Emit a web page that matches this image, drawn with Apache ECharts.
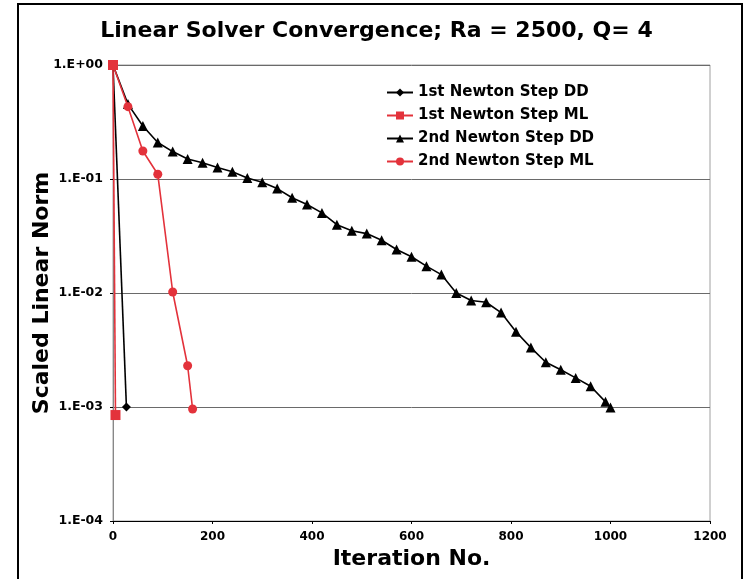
<!DOCTYPE html>
<html style="height: 100%">

<head>
    <meta charset="utf-8">
</head>

<body style="height: 100%; margin: 0; background: #fff">
    <div id="container" style="height: 100%"></div>
    <script type="text/javascript" src="https://cdn.jsdelivr.net/npm/echarts@6/dist/echarts.min.js"></script>
    <script type="text/javascript">

        // iterations and scaled norms
        var ddStep1X = [0, 27];
        var ddStep1Y = [1.0, 0.001];

        var mlStep1X = [0, 5];
        var mlStep1Y = [1.0, 0.00085];

        var ddStep2X = [0, 30, 60, 90, 120, 150, 180, 210, 240, 270, 300, 330, 360, 390, 420, 450, 480, 510,
            540, 570, 600, 630, 660, 690, 720, 750, 780, 810, 840, 870, 900, 930, 960, 990, 1000];
        var ddStep2Y = [1.0, 0.454, 0.292, 0.209, 0.174, 0.150, 0.139, 0.126, 0.116, 0.102, 0.0935, 0.0824,
            0.0684, 0.0598, 0.0504, 0.0397, 0.0352, 0.0332, 0.0290, 0.0241, 0.0208, 0.0172, 0.0145, 0.0100,
            0.0086, 0.0083, 0.00673, 0.00457, 0.00332, 0.00247, 0.00212, 0.00180, 0.00152, 0.00111, 0.00099];

        var mlStep2X = [0, 30, 60, 90, 120, 150, 160];
        var mlStep2Y = [1.0, 0.431, 0.176, 0.110, 0.0102, 0.0023, 0.00096];

        var seriesNames = ['1st Newton Step DD', '1st Newton Step ML', '2nd Newton Step DD', '2nd Newton Step ML'];
        var yTicks = [1, 0.1, 0.01, 0.001, 0.0001];

        function pairs(xs, ys) {
            var out = [];
            for (var i = 0; i < xs.length; i++) {
                out.push([xs[i], ys[i]]);
            }
            return out;
        }

        function expLabel(v) {
            var e = Math.round(Math.log(v) / Math.LN10);
            var s = e < 0 ? '-' : '+';
            var a = Math.abs(e);
            return '1.E' + s + (a < 10 ? '0' + a : a);
        }

        var red = '#e3323b';
        var font = 'DejaVu Sans';

        var dom = document.getElementById("container");
        var myChart = echarts.init(dom, null, { renderer: 'canvas' });

        var option = {
            backgroundColor: '#fff',
            animation: false,
            title: {
                text: 'Linear Solver Convergence; Ra = 2500, Q= 4',
                left: 'center',
                top: 15,
                textStyle: { fontFamily: font, fontSize: 22, fontWeight: 'bold', color: '#000' }
            },
            graphic: [{
                type: 'rect',
                shape: { x: 18, y: 4, width: 724, height: 620 },
                style: { fill: 'none', stroke: '#000', lineWidth: 2 },
                silent: true
            }],
            legend: {
                orient: 'vertical',
                left: 381,
                top: 80,
                itemWidth: 26,
                itemHeight: 10,
                itemGap: 8,
                data: seriesNames,
                textStyle: { fontFamily: font, fontSize: 15, fontWeight: 'bold', color: '#000' }
            },
            grid: {
                left: 113,
                right: 43,
                top: 65,
                bottom: 58,
                show: true,
                borderColor: '#a0a0a0',
                borderWidth: 1
            },
            xAxis: {
                type: 'value',
                min: 0,
                max: 1200,
                interval: 200,
                name: 'Iteration No.',
                nameLocation: 'middle',
                nameGap: 27,
                nameTextStyle: { fontFamily: font, fontSize: 22, fontWeight: 'bold', color: '#000' },
                axisLine: { lineStyle: { color: '#000', width: 1 } },
                axisTick: { length: 3, lineStyle: { color: '#000' } },
                axisLabel: {
                    margin: 10, fontFamily: font, fontSize: 12, fontWeight: 'bold', color: '#000',
                    formatter: function (v) { return String(v); }
                },
                splitLine: { show: false }
            },
            yAxis: {
                type: 'log',
                logBase: 10,
                min: yTicks[yTicks.length - 1],
                max: yTicks[0],
                name: 'Scaled Linear Norm',
                nameLocation: 'middle',
                nameGap: 60,
                nameMoveOverlap: false,
                nameTextStyle: { fontFamily: font, fontSize: 22, fontWeight: 'bold', color: '#000' },
                axisLine: { show: true, lineStyle: { color: '#888', width: 1 } },
                axisTick: { show: true, length: 3, lineStyle: { color: '#000' } },
                axisLabel: {
                    margin: 10, fontFamily: font, fontSize: 12.5, fontWeight: 'bold', color: '#000',
                    formatter: expLabel
                },
                splitLine: { show: true, lineStyle: { color: '#6a6a6a', width: 1 } }
            },
            series: [
                {
                    name: seriesNames[0], type: 'line', data: pairs(ddStep1X, ddStep1Y),
                    symbol: 'diamond', symbolSize: 9,
                    itemStyle: { color: '#000' }, lineStyle: { color: '#000', width: 1.6 }, z: 3
                },
                {
                    name: seriesNames[1], type: 'line', data: pairs(mlStep1X, mlStep1Y),
                    symbol: 'rect', symbolSize: 10,
                    itemStyle: { color: red }, lineStyle: { color: red, width: 1.6 }, z: 4
                },
                {
                    name: seriesNames[2], type: 'line', data: pairs(ddStep2X, ddStep2Y),
                    symbol: 'triangle', symbolSize: 10,
                    itemStyle: { color: '#000' }, lineStyle: { color: '#000', width: 1.6 }, z: 2
                },
                {
                    name: seriesNames[3], type: 'line', data: pairs(mlStep2X, mlStep2Y),
                    symbol: 'circle', symbolSize: 9,
                    itemStyle: { color: red }, lineStyle: { color: red, width: 1.6 }, z: 3
                }
            ]
        };

        myChart.setOption(option);
    </script>
</body>

</html>
